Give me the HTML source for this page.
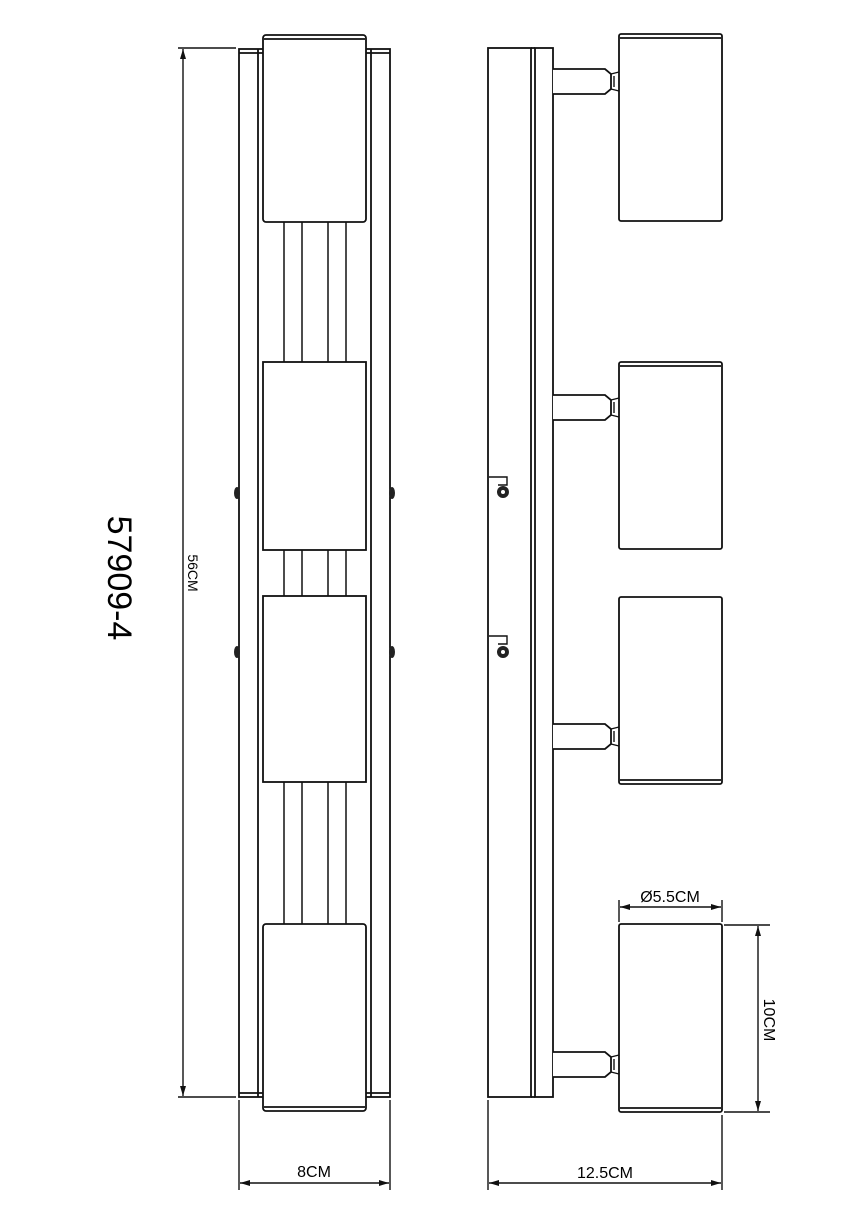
<!DOCTYPE html>
<html><head><style>body{margin:0;background:#fff}</style></head><body>
<svg width="865" height="1223" viewBox="0 0 865 1223" xmlns="http://www.w3.org/2000/svg" font-family="Liberation Sans, Arial, sans-serif">
<defs>
<marker id="a" viewBox="0 0 10 6" refX="10" refY="3" markerWidth="10" markerHeight="6" orient="auto-start-reverse" markerUnits="userSpaceOnUse"><path d="M0,0 L10,3 L0,6 z" fill="#111"/></marker>
</defs>
<g fill="none" stroke="#111" stroke-width="1.8">
<!-- FRONT VIEW -->
<rect x="239" y="49" width="151" height="1048" fill="#fff"/>
<line x1="258" y1="49" x2="258" y2="1097"/>
<line x1="371" y1="49" x2="371" y2="1097"/>
<line x1="239" y1="53" x2="390" y2="53"/>
<line x1="239" y1="1093" x2="390" y2="1093"/>
<g stroke-width="1.5">
<line x1="284" y1="222" x2="284" y2="362"/><line x1="302" y1="222" x2="302" y2="362"/><line x1="328" y1="222" x2="328" y2="362"/><line x1="346" y1="222" x2="346" y2="362"/>
<line x1="284" y1="550" x2="284" y2="596"/><line x1="302" y1="550" x2="302" y2="596"/><line x1="328" y1="550" x2="328" y2="596"/><line x1="346" y1="550" x2="346" y2="596"/>
<line x1="284" y1="782" x2="284" y2="924"/><line x1="302" y1="782" x2="302" y2="924"/><line x1="328" y1="782" x2="328" y2="924"/><line x1="346" y1="782" x2="346" y2="924"/>
</g>
<rect x="263" y="35" width="103" height="187" rx="3" fill="#fff"/>
<line x1="264" y1="39" x2="365" y2="39"/>
<rect x="263" y="362" width="103" height="188" fill="#fff"/>
<rect x="263" y="596" width="103" height="186" fill="#fff"/>
<rect x="263" y="924" width="103" height="187" rx="3" fill="#fff"/>
<line x1="264" y1="1107" x2="365" y2="1107"/>
</g>
<g fill="#222">
<ellipse cx="237" cy="493" rx="3" ry="6"/><ellipse cx="392" cy="493" rx="3" ry="6"/>
<ellipse cx="237" cy="652" rx="3" ry="6"/><ellipse cx="392" cy="652" rx="3" ry="6"/>
</g>
<g stroke="#111" stroke-width="1.4" fill="none">
<line x1="178" y1="48" x2="236" y2="48"/>
<line x1="178" y1="1097" x2="236" y2="1097"/>
<line x1="183" y1="49" x2="183" y2="1096" marker-start="url(#a)" marker-end="url(#a)"/>
<line x1="239" y1="1100" x2="239" y2="1190"/>
<line x1="390" y1="1100" x2="390" y2="1190"/>
<line x1="240" y1="1183" x2="389" y2="1183" marker-start="url(#a)" marker-end="url(#a)"/>
</g>
<text x="314" y="1177" font-size="16" text-anchor="middle">8CM</text>
<text transform="translate(188,573) rotate(90)" font-size="14" text-anchor="middle">56CM</text>
<text transform="translate(108,578) rotate(90)" font-size="34" text-anchor="middle">57909-4</text>

<!-- SIDE VIEW -->
<g fill="none" stroke="#111" stroke-width="1.8">
<rect x="488" y="48" width="43" height="1049" fill="#fff"/>
<rect x="535" y="48" width="18" height="1049" fill="#fff"/>
<line x1="531" y1="48" x2="535" y2="48"/><line x1="531" y1="1097" x2="535" y2="1097"/>
<g fill="#fff">
<path d="M553,69 H605 L611,74 V89 L605,94 H553"/>
<path d="M553,395 H605 L611,400 V415 L605,420 H553"/>
<path d="M553,724 H605 L611,729 V744 L605,749 H553"/>
<path d="M553,1052 H605 L611,1057 V1072 L605,1077 H553"/>
</g>
<g stroke-width="1.4">
<path d="M611,74 L619,72 M611,89 L619,91 M614,76 V87"/>
<path d="M611,400 L619,398 M611,415 L619,417 M614,402 V413"/>
<path d="M611,729 L619,727 M611,744 L619,746 M614,731 V742"/>
<path d="M611,1057 L619,1055 M611,1072 L619,1074 M614,1059 V1070"/>
</g>
<rect x="619" y="34" width="103" height="187" rx="2" fill="#fff"/>
<line x1="620" y1="38" x2="721" y2="38"/>
<rect x="619" y="362" width="103" height="187" rx="2" fill="#fff"/>
<line x1="620" y1="366" x2="721" y2="366"/>
<rect x="619" y="597" width="103" height="187" rx="2" fill="#fff"/>
<line x1="620" y1="780" x2="721" y2="780"/>
<rect x="619" y="924" width="103" height="188" rx="2" fill="#fff"/>
<line x1="620" y1="1108" x2="721" y2="1108"/>
<g stroke-width="1.4">
<path d="M489,477 H507 V485 H498"/><path d="M489,636 H507 V644 H498"/>
</g>
</g>
<g fill="#222">
<circle cx="503" cy="492" r="6"/><circle cx="503" cy="652" r="6"/>
</g>
<g fill="#fff"><circle cx="503" cy="492" r="2"/><circle cx="503" cy="652" r="2"/></g>
<g stroke="#111" stroke-width="1.4" fill="none">
<line x1="619" y1="900" x2="619" y2="922"/>
<line x1="722" y1="900" x2="722" y2="922"/>
<line x1="620" y1="907" x2="721" y2="907" marker-start="url(#a)" marker-end="url(#a)"/>
<line x1="724" y1="925" x2="770" y2="925"/>
<line x1="724" y1="1112" x2="770" y2="1112"/>
<line x1="758" y1="926" x2="758" y2="1111" marker-start="url(#a)" marker-end="url(#a)"/>
<line x1="488" y1="1100" x2="488" y2="1190"/>
<line x1="722" y1="1115" x2="722" y2="1190"/>
<line x1="489" y1="1183" x2="721" y2="1183" marker-start="url(#a)" marker-end="url(#a)"/>
</g>
<text x="670" y="902" font-size="16" text-anchor="middle">Ø5.5CM</text>
<text transform="translate(764,1020) rotate(90)" font-size="16" text-anchor="middle">10CM</text>
<text x="605" y="1178" font-size="16" text-anchor="middle">12.5CM</text>
</svg>
</body></html>
